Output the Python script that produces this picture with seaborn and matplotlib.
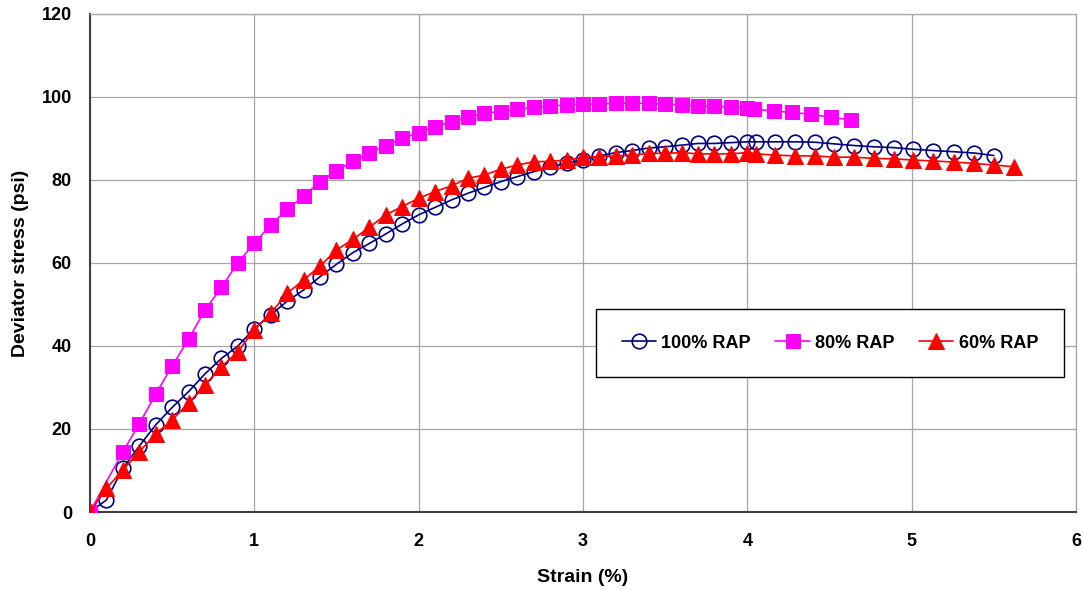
import matplotlib
matplotlib.use("Agg")
import matplotlib.pyplot as plt
import seaborn as sns

# strain (%) values
strain_100 = [0.0, 0.1, 0.2, 0.3, 0.4, 0.5, 0.6, 0.7, 0.8, 0.9,
              1.0, 1.1, 1.2, 1.3, 1.4, 1.5, 1.6, 1.7, 1.8, 1.9,
              2.0, 2.1, 2.2, 2.3, 2.4, 2.5, 2.6, 2.7, 2.8, 2.9,
              3.0, 3.1, 3.2, 3.3, 3.4, 3.5, 3.6, 3.7, 3.8, 3.9,
              4.0, 4.05, 4.17, 4.29, 4.41, 4.53, 4.65, 4.77, 4.89, 5.01,
              5.13, 5.26, 5.38, 5.50]
stress_100 = [0.0, 2.9, 10.5, 15.9, 21.0, 25.2, 29.0, 33.3, 37.0, 40.0,
              44.2, 47.5, 50.8, 53.5, 56.7, 59.7, 62.5, 64.7, 67.0, 69.4,
              71.6, 73.4, 75.2, 76.8, 78.2, 79.6, 80.8, 82.0, 83.1, 84.0,
              84.8, 85.8, 86.6, 87.1, 87.7, 88.0, 88.4, 88.8, 88.8, 89.0,
              89.2, 89.2, 89.2, 89.2, 89.1, 88.7, 88.3, 88.0, 87.8, 87.4,
              87.1, 86.8, 86.5, 85.9]

strain_80 = [0.0, 0.2, 0.3, 0.4, 0.5, 0.6, 0.7, 0.8, 0.9,
             1.0, 1.1, 1.2, 1.3, 1.4, 1.5, 1.6, 1.7, 1.8, 1.9,
             2.0, 2.1, 2.2, 2.3, 2.4, 2.5, 2.6, 2.7, 2.8, 2.9,
             3.0, 3.1, 3.2, 3.3, 3.4, 3.5, 3.6, 3.7, 3.8, 3.9,
             4.0, 4.04, 4.16, 4.27, 4.39, 4.51, 4.63]
stress_80 = [0.0, 14.5, 21.2, 28.4, 35.2, 41.6, 48.7, 54.1, 60.1,
             64.7, 69.2, 72.9, 76.1, 79.6, 82.2, 84.6, 86.4, 88.3, 90.0,
             91.4, 92.8, 94.0, 95.1, 96.1, 96.5, 97.0, 97.5, 97.8, 98.1,
             98.3, 98.3, 98.5, 98.5, 98.5, 98.3, 98.1, 97.8, 97.8, 97.5,
             97.4, 97.1, 96.6, 96.3, 95.8, 95.1, 94.5]

strain_60 = [0.0, 0.1, 0.2, 0.3, 0.4, 0.5, 0.6, 0.7, 0.8, 0.9,
             1.0, 1.1, 1.2, 1.3, 1.4, 1.5, 1.6, 1.7, 1.8, 1.9,
             2.0, 2.1, 2.2, 2.3, 2.4, 2.5, 2.6, 2.7, 2.8, 2.9,
             3.0, 3.1, 3.2, 3.3, 3.4, 3.5, 3.6, 3.7, 3.8, 3.9,
             4.0, 4.05, 4.17, 4.29, 4.41, 4.53, 4.65, 4.77, 4.89, 5.01,
             5.13, 5.26, 5.38, 5.50, 5.62]
stress_60 = [0.0, 5.7, 10.1, 14.5, 18.8, 22.2, 26.2, 30.6, 35.0, 38.6,
             43.9, 47.9, 52.7, 55.9, 59.3, 63.1, 65.7, 68.6, 71.6, 73.6,
             75.6, 77.2, 78.6, 80.4, 81.2, 82.6, 83.6, 84.4, 84.5, 84.8,
             85.5, 85.6, 85.8, 86.0, 86.4, 86.4, 86.6, 86.3, 86.3, 86.3,
             86.6, 86.3, 86.0, 85.8, 85.8, 85.5, 85.5, 85.2, 85.1, 84.8,
             84.6, 84.3, 84.0, 83.6, 83.2]

x_ticks = [0, 1, 2, 3, 4, 5, 6]
y_ticks = [0, 20, 40, 60, 80, 100, 120]

sns.set_style("white")
plt.rcParams['font.family'] = ['Liberation Sans', 'DejaVu Sans']
plt.rcParams['font.weight'] = 'bold'
plt.rcParams['text.color'] = 'black'
plt.rcParams['axes.labelcolor'] = 'black'
plt.rcParams['xtick.color'] = 'black'
plt.rcParams['ytick.color'] = 'black'

fig = plt.figure(figsize=(10.83, 5.90), dpi=100)
ax = fig.add_axes([0.0831, 0.1322, 0.9104, 0.8441])

sns.lineplot(x=strain_100, y=stress_100, ax=ax, color="#000080", linewidth=1.2,
             marker="o", markersize=10.5, markerfacecolor="none",
             markeredgecolor="#000080", markeredgewidth=1.2,
             label="100% RAP", sort=False, estimator=None, zorder=3)
sns.lineplot(x=strain_80, y=stress_80, ax=ax, color="#FF00FF", linewidth=1.2,
             marker="s", markersize=10.5, markeredgecolor="#FF00FF",
             label="80% RAP", sort=False, estimator=None, zorder=4)
sns.lineplot(x=strain_60, y=stress_60, ax=ax, color="#FF0000", linewidth=1.2,
             marker="^", markersize=11.5, markeredgecolor="#FF0000",
             label="60% RAP", sort=False, estimator=None, zorder=5)

ax.set_xlim(0, 6)
ax.set_ylim(0, 120)
ax.set_xticks(x_ticks)
ax.set_yticks(y_ticks)
ax.grid(True, color="#A6A6A6", linewidth=0.9)
ax.set_axisbelow(True)

for side in ["top", "right"]:
    ax.spines[side].set_color("#A6A6A6")
    ax.spines[side].set_linewidth(0.9)
for side in ["left", "bottom"]:
    ax.spines[side].set_color("#404040")
    ax.spines[side].set_linewidth(1.5)

ax.tick_params(axis="both", direction="out", length=5, width=1, color="#404040")
ax.tick_params(axis="x", labelsize=13, pad=10)
ax.tick_params(axis="y", labelsize=13, pad=8)
for lbl in ax.get_xticklabels() + ax.get_yticklabels():
    lbl.set_fontweight("bold")

ax.set_xlabel("Strain (%)", fontsize=14, fontweight="bold", labelpad=14)
ax.set_ylabel("Deviator stress (psi)", fontsize=14, fontweight="bold", labelpad=9)

leg = ax.legend(loc="center", bbox_to_anchor=(0.7664, 0.4186), bbox_transform=fig.transFigure,
                ncol=3, fontsize=13, frameon=True, fancybox=False, edgecolor="black",
                framealpha=1, borderpad=1.4, handlelength=1.9, columnspacing=1.35,
                handletextpad=0.3, borderaxespad=0)
leg.get_frame().set_linewidth(1.0)
for t in leg.get_texts():
    t.set_fontweight("bold")

fig.savefig("out.png", dpi=100)
